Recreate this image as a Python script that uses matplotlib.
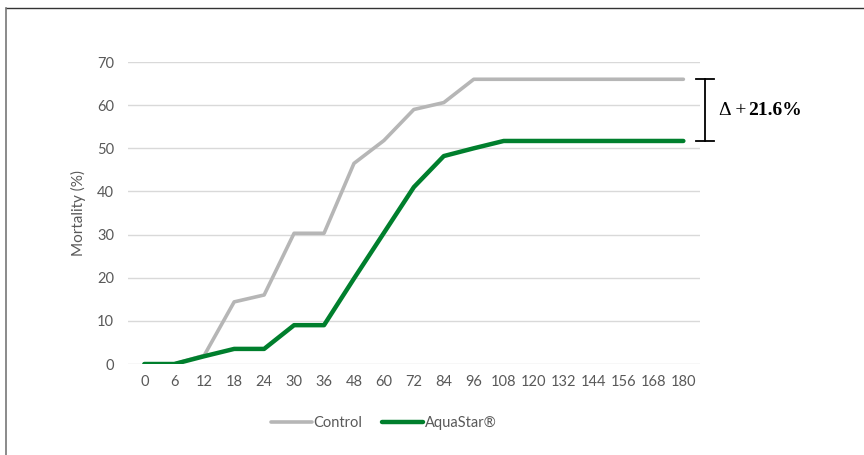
import numpy as np
import matplotlib.pyplot as plt
from matplotlib.lines import Line2D

# time points (h) shown as evenly spaced categories
hours = ["0", "6", "12", "18", "24", "30", "36", "48", "60", "72", "84", "96",
         "108", "120", "132", "144", "156", "168", "180"]
control = [0, 0, 2, 14.4, 16, 30.3, 30.3, 46.5, 51.8, 59, 60.6, 66,
           66, 66, 66, 66, 66, 66, 66]
aquastar = [0, 0, 1.8, 3.5, 3.5, 9, 9, 19.8, 30.4, 41, 48.2, 50,
            51.7, 51.7, 51.7, 51.7, 51.7, 51.7, 51.7]
delta_sign = "\u0394 +"
delta_value = "21.6%"

plt.rcParams['font.family'] = ['Lato', 'DejaVu Sans']

fig = plt.figure(figsize=(8.64, 4.55), dpi=100)
ax = fig.add_axes([0.148, 0.2, 0.662, 0.6637])

x = np.arange(len(hours))
ax.plot(x, control, color="#B6B6B6", lw=2.6, solid_capstyle="round", label="Control", zorder=3)
ax.plot(x, aquastar, color="#007F2D", lw=3.2, solid_capstyle="round", label="AquaStar\u00ae", zorder=4)

ax.set_xlim(-0.55, len(hours) - 0.45)
ax.set_ylim(0, 70)
ax.set_yticks(range(0, 71, 10))
ax.set_xticks(x)
ax.set_xticklabels(hours)
ax.grid(axis="y", color="#D9D9D9", lw=1)
ax.set_axisbelow(True)
for s in ax.spines.values():
    s.set_visible(False)
ax.tick_params(length=0, colors="#595959", labelsize=10.5, pad=8)
ax.tick_params(axis="y", pad=10)
ax.set_ylabel("Mortality (%)", color="#595959", fontsize=11, labelpad=8)

# bracket showing difference between final values
top, bot = control[-1], aquastar[-1]
bx = len(hours) - 1 + 0.72
ax.plot([bx, bx], [bot, top], color="black", lw=1.3, clip_on=False)
for yy in (top, bot):
    ax.plot([bx - 0.3, bx + 0.3], [yy, yy], color="black", lw=1.3, clip_on=False)
t = ax.text(bx + 0.47, (top + bot) / 2, delta_sign, family="Liberation Serif",
            fontsize=14, va="center", ha="left")
ax.annotate(delta_value, xycoords=t, xy=(1, 0.5), xytext=(1.5, 0), textcoords="offset points",
            family="Liberation Serif", fontweight="bold", fontsize=14, va="center", ha="left")

fig.legend(loc="center", bbox_to_anchor=(0.444, 0.07), ncol=2, frameon=False,
           fontsize=10.5, handlelength=2.8, handletextpad=0.1, columnspacing=1.4,
           labelcolor="#595959")

# frame lines at top/left of the picture
fig.add_artist(Line2D([5.5 / 864, 1], [1 - 7.5 / 455, 1 - 7.5 / 455], color="#333333", lw=1))
fig.add_artist(Line2D([5.5 / 864, 5.5 / 864], [0, 1 - 7.5 / 455], color="#777777", lw=1.2))

fig.savefig("out.png", dpi=100)
